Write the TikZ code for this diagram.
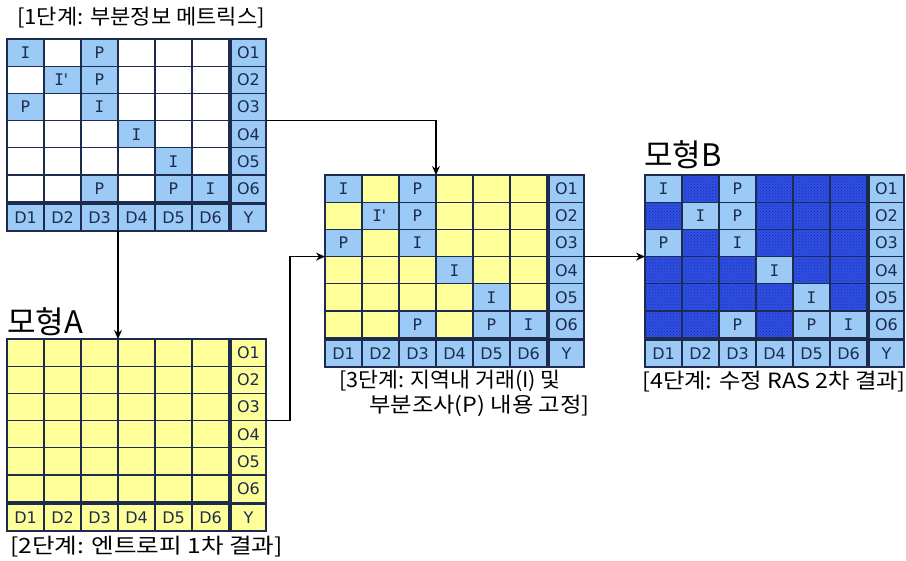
\documentclass[tikz,border=0pt]{standalone}
\usepackage{fontspec}
\usepackage{graphicx}
\setmainfont{DejaVu Sans}
\newfontfamily\kr{Noto Sans CJK KR}
\newfontfamily\cellmono{DejaVu Sans Mono}
\usetikzlibrary{arrows.meta,patterns}
\definecolor{navy}{HTML}{1D2C4C}
\definecolor{ltblue}{HTML}{9CCAF6}
\definecolor{ylw}{HTML}{FFFF99}
\definecolor{dkblue}{HTML}{2E50E6}
\definecolor{dkdot}{HTML}{1A2C9A}
\tikzset{
  cell/.style={draw=navy, line width=1.1pt, minimum width=37pt, minimum height=27.2pt,
    inner sep=0pt, outer sep=0pt, anchor=north west, text=navy,
    font=\fontsize{16}{16}\selectfont},
  bluecell/.style={fill=ltblue},
  yelcell/.style={fill=ylw},
  whitecell/.style={fill=white},
  patcell/.style={fill=dkblue, postaction={pattern=crosshatch dots, pattern color=dkdot}},
  speccell/.style={cell, fill=ltblue, font=\cellmono\fontsize{16}{16}\selectfont},
  lbl/.style={font=\kr\fontsize{21}{24}\selectfont, text=black, inner sep=0pt, anchor=west},
  biglbl/.style={font=\kr\fontsize{31}{31}\selectfont, text=black, inner sep=0pt, anchor=west},
  arr/.style={-{Stealth[length=9pt,width=8pt,inset=3pt]}, line width=1.1pt, black},
  gridframe/.style={draw=navy, line width=1.7pt}
}
\newcommand\mtx[5]{%
  \node[cell,#4,minimum width=259pt,minimum height=192pt] (#1) at (#2,#3) {};
  \foreach \r in {1,...,6}{%
    \node[cell,#4,minimum width=35pt] (#1-o\r) at ({#2+224},{#3+(\r-1)*27.2}) {O\r};
    \foreach \c in {1,...,6}{%
      \node[cell,#5] (#1-\r-\c) at ({#2+(\c-1)*37},{#3+(\r-1)*27.2}) {};}}
  \foreach \c in {1,...,6}{%
    \node[cell,#4,minimum height=27pt] (#1-d\c) at ({#2+(\c-1)*37},{#3+165}) {D\c};}
  \node[cell,#4,minimum width=35pt,minimum height=27pt] (#1-y) at ({#2+224},{#3+165}) {Y};
}
\newcommand\spec[2]{%
  \foreach \r/\c/\tx in {1/1/I,1/3/P,2/3/P,3/1/P,3/3/I,4/4/I,5/5/I,6/3/P,6/5/P,6/6/I}{%
    \node[speccell] (#1s-\r-\c) at (#1-\r-\c.north west) {\tx};}
  \node[speccell] (#1s-2-2) at (#1-2-2.north west) {#2};
}
\newcommand\gframe[1]{%
  \draw[gridframe] (#1-1-1.north west) rectangle (#1-6-6.south east);
}
\begin{document}
\begin{tikzpicture}[x=1pt,y=-1pt]
\useasboundingbox (0,0) rectangle (906,561);
\fill[white] (0,0) rectangle (906,561);

\mtx{m1}{7}{39}{bluecell}{whitecell}
\spec{m1}{I\kern-3pt'}
\gframe{m1}

\mtx{mA}{7}{339}{yelcell}{yelcell}
\gframe{mA}

\mtx{mC}{325}{175}{bluecell}{yelcell}
\spec{mC}{I\kern-3pt'}
\gframe{mC}

\mtx{mB}{645}{175}{bluecell}{patcell}
\spec{mB}{I}
\gframe{mB}

\node[lbl] (t1) at (17,18) {\scalebox{1.05}[1]{[1단계: 부분정보 메트릭스]}};
\node[biglbl] (tA) at (7,322) {모형A};
\node[biglbl] (tB) at (644,155) {모형B};
\node[lbl] (t2) at (10,547) {\scalebox{1.17}[1]{[2단계: 엔트로피 1차 결과]}};
\node[lbl] (t3a) at (339,381) {\scalebox{1.03}[1]{[3단계: 지역내 거래(I) 및}};
\node[lbl] (t3b) at (369,406) {\scalebox{1.11}[1]{부분조사(P) 내용 고정]}};
\node[lbl] (t4) at (642,382) {\scalebox{1.11}[1]{[4단계: 수정 RAS 2차 결과]}};

\draw[arr] (m1-d3.south east) -- (mA-1-3.north east);
\draw[arr] (mA-o3.south east) -- ++(24,0) |- (mC-3-1.south west);
\draw[arr] (m1-o3.south east) -| (mC-1-3.north east);
\draw[arr] (mC-o3.south east) -- (mB-3-1.south west);
\end{tikzpicture}
\end{document}
